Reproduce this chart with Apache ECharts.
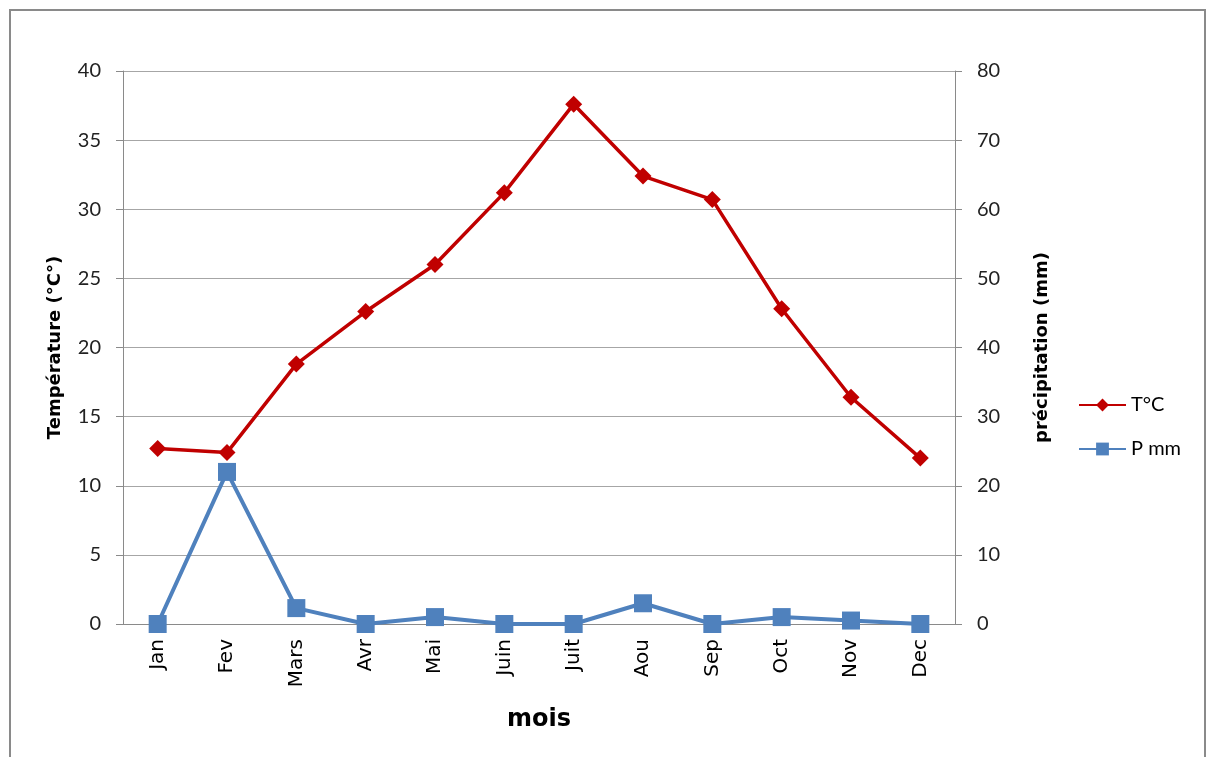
<!DOCTYPE html>
<html lang="fr">
<head>
  <meta charset="UTF-8" />
  <title>Température et précipitation</title>
  <script src="https://cdn.jsdelivr.net/npm/echarts@6/dist/echarts.min.js"></script>
  <style>
    html, body { margin: 0; padding: 0; background: #fff; }
    #main { width: 1211px; height: 757px; }
  </style>
</head>
<body>
  <div id="main"></div>
  <script>
    // données
    var mois = ['Jan', 'Fev', 'Mars', 'Avr', 'Mai', 'Juin', 'Juit', 'Aou', 'Sep', 'Oct', 'Nov', 'Dec'];
    var temperature = [12.7, 12.4, 18.8, 22.6, 26.0, 31.2, 37.6, 32.4, 30.7, 22.8, 16.4, 12.0];
    var precipitation = [0, 22.0, 2.3, 0, 1.0, 0, 0, 3.0, 0, 1.0, 0.5, 0];

    var police = 'Lato, "Open Sans", sans-serif';
    var policeLarge = '"DejaVu Sans", sans-serif';
    var myChart = echarts.init(document.getElementById('main'));

    var option = {
      animation: false,
      textStyle: { fontFamily: police },
      graphic: [{
        type: 'rect',
        shape: { x: 10, y: 10, width: 1195, height: 760 },
        style: { fill: 'none', stroke: '#8a8a8a', lineWidth: 2 }
      }],
      grid: { left: 123, right: 256, top: 71, bottom: 133 },
      legend: {
        orient: 'vertical',
        left: 1073,
        top: 390,
        itemGap: 24,
        itemWidth: 47,
        itemHeight: 16,
        textStyle: { fontSize: 20, color: '#000', fontFamily: police },
        data: ['T°C', 'P mm']
      },
      xAxis: {
        type: 'category',
        data: mois,
        boundaryGap: true,
        name: 'mois',
        nameLocation: 'middle',
        nameGap: 84,
        nameTextStyle: { fontSize: 24, fontWeight: 'bold', color: '#000', fontFamily: policeLarge },
        axisLine: { lineStyle: { color: '#8a8a8a', width: 1 } },
        axisTick: { show: false },
        axisLabel: { rotate: 90, fontSize: 20, color: '#000', margin: 15, fontFamily: policeLarge }
      },
      yAxis: [
        {
          type: 'value',
          min: 0,
          max: 40,
          interval: 5,
          name: 'Température (°C°)',
          nameLocation: 'middle',
          nameGap: 59,
          nameTextStyle: { fontSize: 18, fontWeight: 'bold', color: '#000', fontFamily: policeLarge },
          axisLine: { show: true, lineStyle: { color: '#8a8a8a' } },
          axisTick: { show: true, length: 7, lineStyle: { color: '#8a8a8a' } },
          axisLabel: { fontSize: 20, color: '#222', margin: 22 },
          splitLine: { lineStyle: { color: '#a6a6a6', width: 1 } }
        },
        {
          type: 'value',
          min: 0,
          max: 80,
          interval: 10,
          name: 'précipitation (mm)',
          nameLocation: 'middle',
          nameGap: 78,
          nameRotate: 90,
          nameTextStyle: { fontSize: 18, fontWeight: 'bold', color: '#000', fontFamily: policeLarge },
          axisLine: { show: true, lineStyle: { color: '#8a8a8a' } },
          axisTick: { show: true, length: 7, lineStyle: { color: '#8a8a8a' } },
          axisLabel: { fontSize: 20, color: '#222', margin: 22 },
          splitLine: { show: false }
        }
      ],
      series: [
        {
          name: 'T°C',
          type: 'line',
          yAxisIndex: 0,
          data: temperature,
          symbol: 'diamond',
          symbolSize: 17,
          lineStyle: { color: '#C00000', width: 3.5 },
          itemStyle: { color: '#C00000' }
        },
        {
          name: 'P mm',
          type: 'line',
          yAxisIndex: 1,
          data: precipitation,
          symbol: 'rect',
          symbolSize: 18,
          lineStyle: { color: '#4F81BD', width: 4 },
          itemStyle: { color: '#4F81BD' }
        }
      ]
    };

    myChart.setOption(option);
  </script>
</body>
</html>
